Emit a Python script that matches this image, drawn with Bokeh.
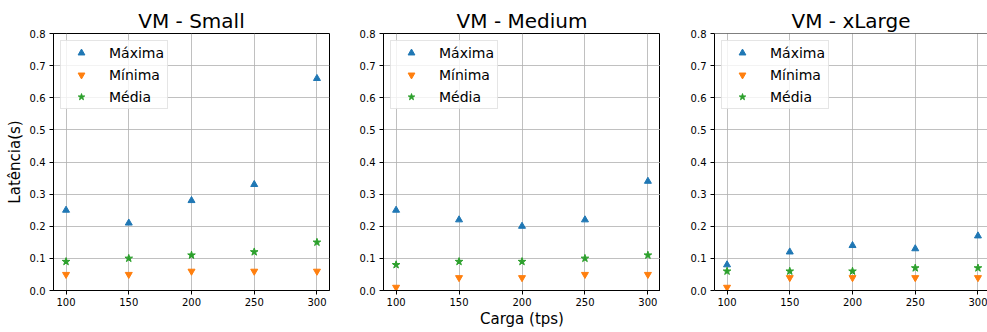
from bokeh.plotting import figure
from bokeh.layouts import row
from bokeh.models import (Range1d, FixedTicker, PrintfTickFormatter, Legend,
                          LegendItem, Span)
from bokeh.embed import file_html
from bokeh.resources import INLINE

# Load (transactions per second) on the x axis
carga = [100, 150, 200, 250, 300]
x_ticks = [100, 150, 200, 250, 300]
y_ticks = [0.0, 0.1, 0.2, 0.3, 0.4, 0.5, 0.6, 0.7, 0.8]

# Latency in seconds per VM size
small_max = [0.25, 0.21, 0.28, 0.33, 0.66]
small_min = [0.05, 0.05, 0.06, 0.06, 0.06]
small_avg = [0.09, 0.10, 0.11, 0.12, 0.15]

medium_max = [0.25, 0.22, 0.20, 0.22, 0.34]
medium_min = [0.01, 0.04, 0.04, 0.05, 0.05]
medium_avg = [0.08, 0.09, 0.09, 0.10, 0.11]

xlarge_max = [0.08, 0.12, 0.14, 0.13, 0.17]
xlarge_min = [0.01, 0.04, 0.04, 0.04, 0.04]
xlarge_avg = [0.06, 0.06, 0.06, 0.07, 0.07]

titles = ["VM - Small", "VM - Medium", "VM - xLarge"]
series_labels = ["Máxima", "Mínima", "Média"]

FONT = "DejaVu Sans"
BLUE, ORANGE, GREEN = "#1f77b4", "#ff7f0e", "#2ca02c"


def panel(title, maxv, minv, avgv, width, border_left, border_right,
          x_end, ylabel=None, xlabel=None, right_spine=True):
    p = figure(width=width, height=332, output_backend="svg",
               toolbar_location=None, x_range=Range1d(90, x_end),
               y_range=Range1d(0, 0.8), min_border_left=border_left,
               min_border_right=border_right, min_border_top=33,
               min_border_bottom=42, background_fill_color="white",
               border_fill_color="white")
    p.title.text = title
    p.title.align = "center"
    p.title.text_font = FONT
    p.title.text_font_size = "20px"
    p.title.text_font_style = "normal"
    p.title.text_color = "black"
    p.title.standoff = 2

    if right_spine:
        p.outline_line_color = "black"
        p.outline_line_width = 1
        p.outline_line_alpha = 1
    else:
        p.outline_line_color = None
        p.add_layout(Span(location=0.8, dimension="width",
                          line_color="black", line_width=1))

    p.xaxis.ticker = FixedTicker(ticks=x_ticks)
    p.yaxis.ticker = FixedTicker(ticks=y_ticks)
    p.yaxis.formatter = PrintfTickFormatter(format="%.1f")
    for ax in (p.xaxis[0], p.yaxis[0]):
        ax.axis_line_color = "black"
        ax.major_tick_line_color = "black"
        ax.major_tick_out = 4
        ax.major_tick_in = 0
        ax.minor_tick_line_color = None
        ax.major_label_text_font = FONT
        ax.major_label_text_font_size = "10px"
        ax.major_label_text_color = "black"
        ax.axis_label_text_font = FONT
        ax.axis_label_text_font_size = "15px"
        ax.axis_label_text_font_style = "normal"
        ax.axis_label_text_color = "black"
    p.xaxis.major_label_standoff = 3
    p.yaxis.major_label_standoff = 4
    p.xaxis.axis_label_standoff = 1
    p.yaxis.axis_label_standoff = 3
    if ylabel:
        p.yaxis.axis_label = ylabel
    if xlabel:
        p.xaxis.axis_label = xlabel

    p.grid.grid_line_color = "#b0b0b0"
    p.grid.grid_line_width = 0.8

    r1 = p.scatter(carga, maxv, marker="triangle", size=7,
                   color=BLUE)
    r2 = p.scatter(carga, minv, marker="inverted_triangle", size=7,
                   color=ORANGE)
    r3 = p.scatter(carga, avgv, marker="star", size=8, color=GREEN)

    legend = Legend(
        items=[LegendItem(label=series_labels[0], renderers=[r1]),
               LegendItem(label=series_labels[1], renderers=[r2]),
               LegendItem(label=series_labels[2], renderers=[r3])],
        location="top_left", margin=7, padding=3, glyph_width=34,
        glyph_height=17, label_height=17, spacing=5, label_standoff=11,
        label_text_font=FONT, label_text_font_size="14px",
        label_text_color="black", border_line_color="#cccccc",
        border_line_width=1, background_fill_color="white",
        background_fill_alpha=0.8)
    p.add_layout(legend)
    return p


p1 = panel(titles[0], small_max, small_min, small_avg, 330, 53, 1, 310,
           ylabel="Latência(s)")
p2 = panel(titles[1], medium_max, medium_min, medium_avg, 330, 53, 0, 310,
           xlabel="Carga (tps)")
p3 = panel(titles[2], xlarge_max, xlarge_min, xlarge_avg, 327, 54, 0, 307.6,
           right_spine=False)

layout = row(p1, p2, p3, spacing=0)

open("out.html", "w").write(file_html(layout, INLINE))
